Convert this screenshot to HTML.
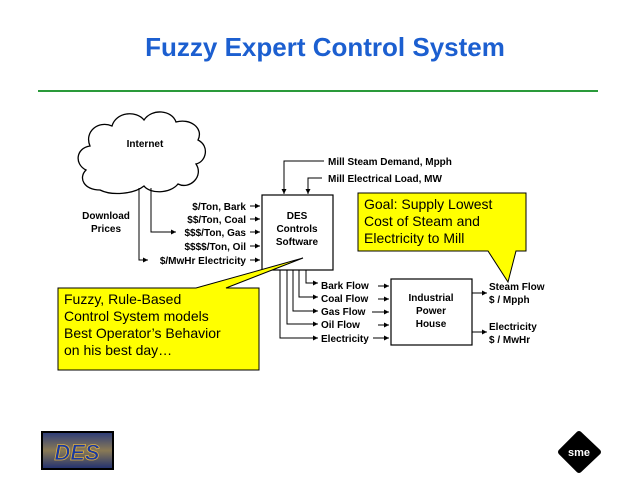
<!DOCTYPE html>
<html><head><style>body{margin:0;background:#fff}svg{display:block}</style></head><body>
<svg width="640" height="480" viewBox="0 0 640 480" xmlns="http://www.w3.org/2000/svg" font-family="Liberation Sans, Arial, sans-serif">
<defs><marker id="a" markerWidth="6" markerHeight="6" refX="5" refY="3" orient="auto" markerUnits="userSpaceOnUse"><path d="M0,0.5 L5,3 L0,5.5 Z" fill="#000"/></marker>
<linearGradient id="g" x1="0" y1="0" x2="0" y2="1"><stop offset="0" stop-color="#2a3b7a"/><stop offset="0.5" stop-color="#8a7a55"/><stop offset="1" stop-color="#1f2f70"/></linearGradient></defs>
<text x="325" y="56" text-anchor="middle" font-size="26" font-weight="bold" fill="#1c5fd0">Fuzzy Expert Control System</text>
<rect x="38" y="90" width="560" height="2" fill="#2a9a3a"/>
<!-- cloud -->
<path d="M100,190 C84,190 78,178 86,170 C74,164 76,148 90,146 C84,132 98,120 112,126 C116,112 136,110 144,120 C152,108 172,110 176,122 C190,118 204,128 198,140 C210,146 206,162 196,164 C204,176 190,190 178,184 C170,194 150,194 144,186 C134,194 112,196 100,190 Z" fill="#fff" stroke="#000" stroke-width="1.3"/>
<text x="145" y="147" text-anchor="middle" font-size="10" font-weight="bold">Internet</text>
<g stroke="#000" stroke-width="1" fill="none">
<path d="M139,188 V260 H148" marker-end="url(#a)"/>
<path d="M151,188 V232 H176" marker-end="url(#a)"/>
<path d="M250,206 H260" marker-end="url(#a)"/>
<path d="M250,219 H260" marker-end="url(#a)"/>
<path d="M250,232 H260" marker-end="url(#a)"/>
<path d="M250,246 H260" marker-end="url(#a)"/>
<path d="M250,260 H260" marker-end="url(#a)"/>
<path d="M324,161 H284 V194" marker-end="url(#a)"/>
<path d="M322,178 H308 V194" marker-end="url(#a)"/>
<rect x="262" y="195" width="71" height="75" stroke-width="1.2"/>
<path d="M306,270 V283 H318" marker-end="url(#a)"/>
<path d="M299,270 V297 H318" marker-end="url(#a)"/>
<path d="M293,270 V311 H318" marker-end="url(#a)"/>
<path d="M287,270 V324 H318" marker-end="url(#a)"/>
<path d="M280,270 V338 H318" marker-end="url(#a)"/>
<path d="M378,286 H389" marker-end="url(#a)"/>
<path d="M378,299 H389" marker-end="url(#a)"/>
<path d="M372,312 H389" marker-end="url(#a)"/>
<path d="M378,325 H389" marker-end="url(#a)"/>
<path d="M373,338 H389" marker-end="url(#a)"/>
<rect x="391" y="279" width="81" height="66" stroke-width="1.2"/>
<path d="M472,293 H487" marker-end="url(#a)"/>
<path d="M472,332 H487" marker-end="url(#a)"/>
</g>
<g font-size="10" font-weight="bold">
<text x="106" y="219" text-anchor="middle">Download</text><text x="106" y="232" text-anchor="middle">Prices</text>
<g text-anchor="end"><text x="246" y="210">$/Ton, Bark</text><text x="246" y="223">$$/Ton, Coal</text><text x="246" y="236">$$$/Ton, Gas</text><text x="246" y="250">$$$$/Ton, Oil</text><text x="246" y="264">$/MwHr Electricity</text></g>
<text x="297" y="219" text-anchor="middle">DES</text><text x="297" y="232" text-anchor="middle">Controls</text><text x="297" y="245" text-anchor="middle">Software</text>
<text x="328" y="165">Mill Steam Demand, Mpph</text><text x="328" y="182">Mill Electrical Load, MW</text>
<text x="321" y="289">Bark Flow</text><text x="321" y="302">Coal Flow</text><text x="321" y="315">Gas Flow</text><text x="321" y="328">Oil Flow</text><text x="321" y="342">Electricity</text>
<text x="431" y="301" text-anchor="middle">Industrial</text><text x="431" y="314" text-anchor="middle">Power</text><text x="431" y="327" text-anchor="middle">House</text>
<text x="489" y="290">Steam Flow</text><text x="489" y="303">$ / Mpph</text><text x="489" y="330">Electricity</text><text x="489" y="343">$ / MwHr</text>
</g>
<path d="M358,193 H526 V251 H516 L508,282 L488,251 H358 Z" fill="#ffff00" stroke="#000" stroke-width="1"/>
<g font-size="14"><text x="364" y="209">Goal:  Supply Lowest</text><text x="364" y="226">Cost of Steam and</text><text x="364" y="243">Electricity to Mill</text></g>
<path d="M58,288 H196 L303,258 L226,288 H259 V370 H58 Z" fill="#ffff00" stroke="#000" stroke-width="1"/>
<g font-size="14"><text x="64" y="304">Fuzzy, Rule-Based</text><text x="64" y="321">Control System models</text><text x="64" y="338">Best Operator’s Behavior</text><text x="64" y="355">on his best day…</text></g>
<rect x="42" y="432" width="71" height="37" fill="url(#g)" stroke="#000" stroke-width="2"/>
<text x="77" y="460" text-anchor="middle" font-size="22" font-weight="bold" font-style="italic" fill="#1a3aa0" stroke="#e0b040" stroke-width="0.8">DES</text>
<path d="M579,434 L598,452 L579,470 L561,452 Z" fill="#000" stroke="#000" stroke-width="6" stroke-linejoin="round"/>
<text x="579" y="456" text-anchor="middle" font-size="11" font-weight="bold" fill="#fff">sme</text>
</svg>
</body></html>
